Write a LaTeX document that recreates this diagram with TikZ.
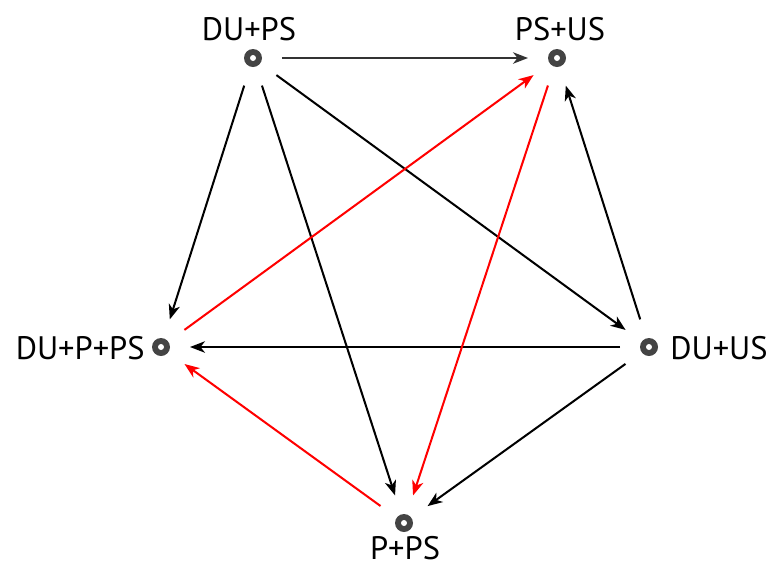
\documentclass[tikz,border=0pt]{standalone}
\usepackage{fontspec}
\setmainfont{PT Sans}
\usetikzlibrary{arrows.meta}
\definecolor{dotgray}{HTML}{444444}
\begin{document}
\begin{tikzpicture}[x=0.02cm, y=-0.02cm,
    state/.style={circle, fill=dotgray, minimum size=0.36cm, inner sep=0pt, outer sep=0.4cm,
      path picture={\fill[white] (path picture bounding box.center) circle (0.06cm);}},
    lbl/.style={font=\fontsize{18.5}{21}\selectfont, inner sep=0pt},
    edge/.style={-{Stealth[length=8.5pt, width=6.5pt, inset=2.5pt]}, line width=1.15pt},
    rededge/.style={edge, red}]
    \useasboundingbox (0,0) rectangle (770,566);
    \node[state] (dups) at (253,58) {};
    \node[state] (psus) at (557,58) {};
    \node[state] (dupps) at (161,347) {};
    \node[state] (duus) at (649,347) {};
    \node[state] (pps) at (404,523) {};
    \node[lbl] at (249,29) {DU+PS};
    \node[lbl] at (560,29) {PS+US};
    \node[lbl, anchor=east] at (145,348) {DU+P+PS};
    \node[lbl, anchor=west] at (670,348) {DU+US};
    \node[lbl] at (405,548) {P+PS};
    \draw[edge, black!80] (dups) -- (psus);
    \draw[edge] (dups) -- (dupps);
    \draw[edge] (dups) -- (pps);
    \draw[edge] (dups) -- (duus);
    \draw[edge] (duus) -- (psus);
    \draw[edge] (duus) -- (dupps);
    \draw[edge] (duus) -- (pps);
    \draw[rededge] (dupps) -- (psus);
    \draw[rededge] (psus) -- (pps);
    \draw[rededge] (pps) -- (dupps);
\end{tikzpicture}
\end{document}
